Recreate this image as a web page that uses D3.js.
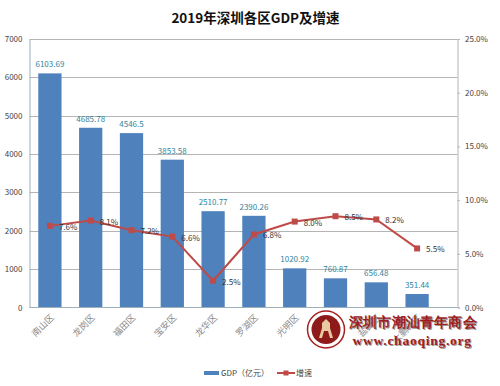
<!DOCTYPE html>
<html><head><meta charset="utf-8">
<script src="https://cdn.jsdelivr.net/npm/d3@7"></script>
<style>html,body{margin:0;padding:0;background:#fff}svg{display:block}text{font-family:"Noto Sans CJK SC","DejaVu Sans",sans-serif}</style>
</head><body><div id="c"></div>
<script>
const title = "2019年深圳各区GDP及增速";
const districts = ["南山区","龙岗区","福田区","宝安区","龙华区","罗湖区","光明区","坪山区","盐田区","大鹏新区"];
const gdp = [6103.69,4685.78,4546.5,3853.58,2510.77,2390.26,1020.92,760.87,656.48,351.44];
const growth = [7.6,8.1,7.2,6.6,2.5,6.8,8.0,8.5,8.2,5.5];
const leftTicks = [0,1000,2000,3000,4000,5000,6000,7000];
const rightTicks = [0,5,10,15,20,25];
const seriesNames = ["GDP（亿元）","增速"];
const watermark = ["深圳市潮汕青年商会","www.chaoqing.org"];

const W=500,H=386;
const svg=d3.select("#c").append("svg").attr("width",W).attr("height",H);
const L=29.5,R=457.5,T=39,B=307.5;
const band=40.8;
const x=d3.scaleBand().domain(districts).range([L,L+band*districts.length]).paddingInner(0.43).paddingOuter(0.215);
const y=d3.scaleLinear().domain([0,7000]).range([B,T]);
const y2=d3.scaleLinear().domain([0,25]).range([B,T]);
const cx=d=>x(d)+x.bandwidth()/2;
const grey="#b4b4b4", axisC="#9fb0bd", txt="#444";

// title
svg.append("text").attr("x",255.5).attr("y",23).attr("text-anchor","middle")
  .attr("font-size",13.5).attr("font-weight",700).attr("fill","#111").text(title);

// grid
svg.append("g").selectAll("line").data(leftTicks.slice(1)).join("line")
  .attr("x1",L).attr("x2",R).attr("y1",d=>Math.round(y(d))+.5).attr("y2",d=>Math.round(y(d))+.5)
  .attr("stroke",grey).attr("stroke-width",1);

// bars
svg.append("g").selectAll("rect").data(gdp).join("rect")
  .attr("x",(d,i)=>x(districts[i])).attr("width",x.bandwidth())
  .attr("y",d=>y(d)).attr("height",d=>B-y(d)).attr("fill","#4f81bd");

// axes
const gl=svg.append("g").attr("transform",`translate(${L},0)`)
  .call(d3.axisLeft(y).tickValues(leftTicks).tickSize(0).tickPadding(7).tickFormat(d3.format("d")));
gl.select(".domain").attr("stroke",axisC);
gl.selectAll("text").attr("font-size",8).attr("fill",txt);
const gr=svg.append("g").attr("transform",`translate(${R},0)`)
  .call(d3.axisRight(y2).tickValues(rightTicks).tickSize(2.5).tickPadding(5).tickFormat(d=>d.toFixed(1)+"%"));
gr.select(".domain").attr("stroke",grey);
gr.selectAll("line").attr("stroke",grey);
gr.selectAll("text").attr("font-size",8).attr("fill",txt);
svg.append("line").attr("x1",L).attr("x2",R).attr("y1",B).attr("y2",B).attr("stroke",axisC);

// category labels
svg.append("g").selectAll("text").data(districts).join("text")
  .attr("transform",d=>`translate(${cx(d)+3},${B+9}) rotate(-45)`)
  .attr("text-anchor","end").attr("dominant-baseline","middle")
  .attr("font-size",9).attr("fill","#8a8a8a").text(d=>d);

// bar labels
svg.append("g").selectAll("text").data(gdp).join("text")
  .attr("x",(d,i)=>cx(districts[i])).attr("y",d=>y(d)-6).attr("text-anchor","middle")
  .attr("font-size",8).attr("fill","#31859c").text(d=>d);

// line
const line=d3.line().x((d,i)=>cx(districts[i])).y(d=>y2(d));
svg.append("path").datum(growth).attr("d",line).attr("fill","none").attr("stroke","#be4b48").attr("stroke-width",2);
svg.append("g").selectAll("rect").data(growth).join("rect")
  .attr("x",(d,i)=>cx(districts[i])-3).attr("y",d=>y2(d)-3).attr("width",6).attr("height",6).attr("fill","#be4b48");
svg.append("g").selectAll("text").data(growth).join("text")
  .attr("x",(d,i)=>cx(districts[i])+9).attr("y",d=>y2(d)+4).attr("font-size",8).attr("fill","#333")
  .text(d=>d.toFixed(1)+"%");

// legend
const lg=svg.append("g");
lg.append("rect").attr("x",204).attr("y",371).attr("width",15).attr("height",4).attr("fill","#4f81bd");
lg.append("text").attr("x",221).attr("y",376).attr("font-size",8).attr("fill",txt).text(seriesNames[0]);
lg.append("line").attr("x1",277).attr("x2",295).attr("y1",373).attr("y2",373).attr("stroke","#be4b48").attr("stroke-width",2);
lg.append("rect").attr("x",283.5).attr("y",370.5).attr("width",5).attr("height",5).attr("fill","#be4b48");
lg.append("text").attr("x",296).attr("y",376).attr("font-size",8).attr("fill",txt).text(seriesNames[1]);

// watermark
const wm=svg.append("g");
wm.append("circle").attr("cx",326).attr("cy",329.5).attr("r",18.5).attr("fill","#fff").attr("stroke","#a8201f").attr("stroke-width",1.5);
wm.append("circle").attr("cx",326).attr("cy",329.5).attr("r",14.5).attr("fill","#8f1a1a");
wm.append("path").attr("d","M326 319l4 4v5l3 10h-3l-2-7h-4l-2 7h-3l3-10v-5z").attr("fill","#e8c9a0");
const shadowText=(t,xx,yy,fs,ls)=>{
  [["#999",1,1],["#a01c1c",0,0]].forEach(([c,dx,dy])=>
    wm.append("text").attr("x",xx+dx).attr("y",yy+dy).attr("font-size",fs).attr("font-weight",700)
      .attr("style",'font-family:"Liberation Serif","DejaVu Serif",serif')
      .attr("letter-spacing",ls).attr("fill",c).text(t));
};
shadowText(watermark[0],349,327,13.5,0.2);
shadowText(watermark[1],352.5,345,13.5,0.75);
</script></body></html>
